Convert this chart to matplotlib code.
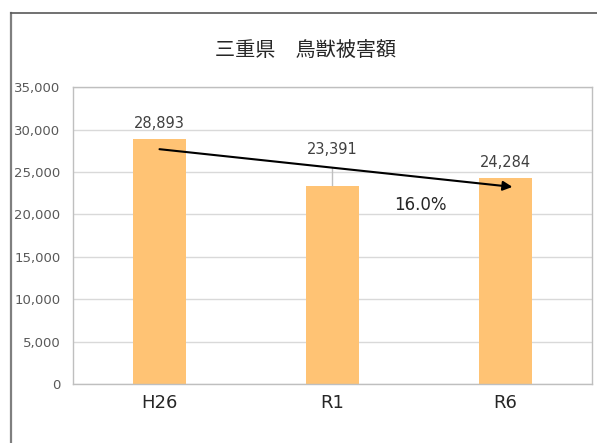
import matplotlib
matplotlib.use('Agg')
import matplotlib.pyplot as plt
from matplotlib.lines import Line2D
import numpy as np

plt.rcParams['font.family'] = ['DejaVu Sans', 'Noto Sans CJK JP']

# データ
categories = ['H26', 'R1', 'R6']
damage = [28893, 23391, 24284]
title = '三重県　鳥獣被害額'
trend_text = '16.0%'
trend_start = (0.0, 27700)
trend_end = (2.04, 23250)
trend_label_pos = (1.51, 21100)
label_offsets = [11, 26, 11]  # points

fig = plt.figure(figsize=(5.97, 4.43), dpi=100)
ax = fig.add_axes([73 / 597, 59 / 443, 519 / 597, 296.7 / 443])

# 外枠 (左と上のみ見える)
fig.add_artist(Line2D([11 / 597, 11 / 597], [0, 1 - 13 / 443], transform=fig.transFigure,
                      color='#7f7f7f', lw=1.6))
fig.add_artist(Line2D([11 / 597, 1], [1 - 13 / 443, 1 - 13 / 443], transform=fig.transFigure,
                      color='#595959', lw=1.2))

x = np.arange(len(categories))
ax.bar(x, damage, width=0.31, color='#FFC374', zorder=2)

ax.set_xlim(-0.5, 2.5)
ax.set_ylim(0, 35000)
ax.set_yticks(np.arange(0, 35001, 5000))
ax.set_yticklabels([f'{v:,}' for v in range(0, 35001, 5000)], fontsize=9.5, color='#595959')
ax.set_xticks(x)
ax.set_xticklabels(categories, fontsize=13, color='#262626')
ax.tick_params(axis='both', length=0)
ax.tick_params(axis='y', pad=9)
ax.tick_params(axis='x', pad=7)
ax.grid(axis='y', color='#d9d9d9', lw=1, zorder=0)
for s in ax.spines.values():
    s.set_color('#bfbfbf')
    s.set_linewidth(1)

# データラベル
for i, (v, off) in enumerate(zip(damage, label_offsets)):
    if off > 15:
        ax.annotate(f'{v:,}', xy=(i, v), xytext=(0, off), textcoords='offset points',
                    ha='center', va='center', fontsize=10.5, color='#404040',
                    arrowprops=dict(arrowstyle='-', color='#bfbfbf', lw=1,
                                    shrinkA=6, shrinkB=0))
    else:
        ax.annotate(f'{v:,}', xy=(i, v), xytext=(0, off), textcoords='offset points',
                    ha='center', va='center', fontsize=10.5, color='#404040')

# 傾向矢印
ax.annotate('', xy=trend_end, xytext=trend_start,
            arrowprops=dict(arrowstyle='-|>', color='black', lw=1.5,
                            mutation_scale=14, shrinkA=0, shrinkB=0), zorder=3)
ax.text(*trend_label_pos, trend_text, ha='center', va='center', fontsize=12, color='#262626')

fig.text(306 / 597, 1 - 50 / 443, title, ha='center', va='center', fontsize=14.5,
         color='#262626', family=['Noto Sans CJK JP', 'DejaVu Sans'])

fig.savefig('out.png', dpi=100)
